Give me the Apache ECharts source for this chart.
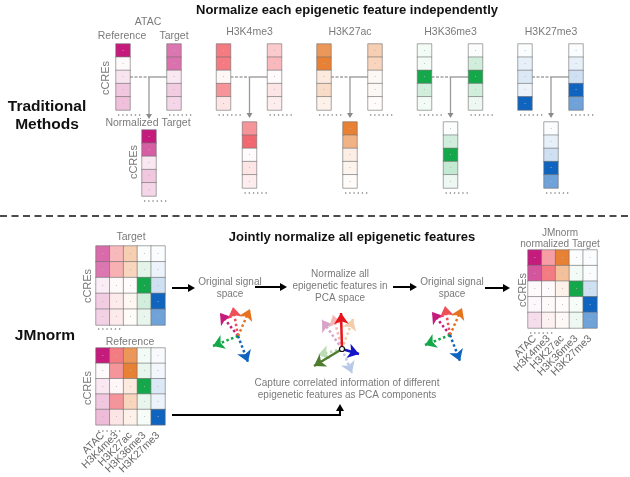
<!DOCTYPE html>
<html>
<head>
<meta charset="utf-8">
<title>JMnorm schematic</title>
<script src="https://cdn.jsdelivr.net/npm/echarts@6/dist/echarts.min.js"></script>
<style>
  html, body { margin: 0; padding: 0; background: #fff; }
  #chart { width: 630px; height: 477px; }
</style>
</head>
<body>
<div id="chart"></div>
<script>
// ---- data ----
const features = ['ATAC', 'H3K4me3', 'H3K27ac', 'H3K36me3', 'H3K27me3'];
const cres = ['cCRE1', 'cCRE2', 'cCRE3', 'cCRE4', 'cCRE5'];

// traditional methods: one column per feature, rows top -> bottom
const refSignal = [
  [1.0, 0.02, 0.12, 0.25, 0.28],
  [0.75, 0.75, 0.05, 0.6, 0.15],
  [0.75, 0.9, 0.15, 0.25, 0.1],
  [0.05, 0.05, 1.0, 0.2, 0.05],
  [0.02, 0.1, 0.15, 0.08, 1.0]
];
const targetSignal = [
  [0.6, 0.62, 0.1, 0.22, 0.18],
  [0.3, 0.4, 0.02, 0.15, 0.1],
  [0.35, 0.3, 0.05, 0.05, 0.02],
  [0.02, 0.2, 1.0, 0.2, 0.08],
  [0.02, 0.1, 0.2, 1.0, 0.6]
];
const normSignal = [
  [1.0, 0.7, 0.1, 0.25, 0.18],
  [0.6, 0.85, 0.02, 0.15, 0.1],
  [0.9, 0.55, 0.12, 0.08, 0.03],
  [0.02, 0.2, 1.0, 0.25, 0.08],
  [0.02, 0.1, 0.2, 1.0, 0.6]
];

// JMnorm matrices, one array per feature (column), rows top -> bottom
const jmTarget = [
  [0.65, 0.6, 0.08, 0.22, 0.2],
  [0.4, 0.45, 0.03, 0.12, 0.12],
  [0.35, 0.3, 0.02, 0.06, 0.03],
  [0.02, 0.12, 1.0, 0.2, 0.1],
  [0.02, 0.08, 0.2, 1.0, 0.6]
];
const jmReference = [
  [1.0, 0.02, 0.1, 0.25, 0.3],
  [0.75, 0.6, 0.05, 0.6, 0.15],
  [0.75, 0.9, 0.15, 0.3, 0.1],
  [0.05, 0.1, 1.0, 0.1, 0.04],
  [0.03, 0.05, 0.15, 0.08, 1.0]
];
const jmNormalized = [
  [1.0, 0.75, 0.02, 0.03, 0.15],
  [0.55, 0.75, 0.02, 0.03, 0.08],
  [0.9, 0.45, 0.1, 0.02, 0.04],
  [0.02, 0.05, 1.0, 0.04, 0.08],
  [0.02, 0.02, 0.2, 1.0, 0.6]
];

// signal vectors (dx, dy) per feature, and PCA components
const signalVectors = [[-18, 23], [-5, 29], [12, 27], [-25, -10], [10, -26]];
const pcaInputVectors = [[-20, 29], [-9, 34], [11, 30], [-24, -6], [10, -24]];
const pcaComponents = [[-1, 36], [17, -5], [-28, -17]];

// ---- styles ----
const featColors = ['#c51b7d', '#ef4f57', '#e6731f', '#14a84a', '#0f64c0'];
const fadedColors = ['#d7a3c9', '#f4b5b5', '#f5cca9', '#bcdcb4', '#b7c9e6'];
const compColors = ['#e8131b', '#1414c8', '#4e7d31'];
const FONT = '"Liberation Sans", Arial, sans-serif';
const GREY = '#7a7a7a';

const grid = [], xAxis = [], yAxis = [], series = [];
const vmSeries = features.map(() => []);

function addGrid(left, top, w, h, xa, ya) {
  grid.push({ left: left, top: top, width: w, height: h });
  const i = grid.length - 1;
  xAxis.push(Object.assign({ gridIndex: i }, xa));
  yAxis.push(Object.assign({ gridIndex: i }, ya));
  return i;
}

function heatGrid(left, top, w, h, cats, showLabels) {
  return addGrid(left, top, w, h, {
    type: 'category', data: cats,
    axisLine: { show: false }, axisTick: { show: false }, splitLine: { show: false },
    axisLabel: { show: showLabels, rotate: 45, interval: 0, margin: 9, fontSize: 10.5, color: '#666', fontFamily: FONT }
  }, {
    type: 'category', data: cres, inverse: true, show: false
  });
}

function addHeat(g, f, col, vals) {
  series.push({
    type: 'heatmap', xAxisIndex: g, yAxisIndex: g, silent: true,
    data: vals.map((v, r) => [col, r, v]),
    itemStyle: { borderColor: 'rgba(110,110,110,0.75)', borderWidth: 0.8 },
    label: { show: true, formatter: '\u00b7', color: '#b5b5b5', fontSize: 8 },
    emphasis: { disabled: true }
  });
  vmSeries[f].push(series.length - 1);
}

function vectorGrid(cx, cy, R, vecs, colors, type, width) {
  const g = addGrid(cx - R, cy - R, 2 * R, 2 * R,
    { type: 'value', min: -R, max: R, show: false },
    { type: 'value', min: -R, max: R, show: false });
  series.push({
    type: 'lines', coordinateSystem: 'cartesian2d', xAxisIndex: g, yAxisIndex: g, silent: true,
    symbol: ['none', 'arrow'], symbolSize: [0, 11],
    lineStyle: { width: width, type: type, opacity: 1 },
    data: vecs.map((v, i) => ({ coords: [[0, 0], v], lineStyle: { color: colors[i] } }))
  });
  return g;
}

// ---- graphic helpers ----
const graphic = [];
function text(x, y, str, opt) {
  opt = opt || {};
  graphic.push({
    type: 'text', x: x, y: y, rotation: opt.rotation || 0, silent: true,
    style: {
      text: str, fill: opt.color || GREY, fontSize: opt.size || 10,
      fontWeight: opt.bold ? 'bold' : 'normal', fontFamily: FONT,
      textAlign: 'center', textVerticalAlign: 'middle'
    }
  });
}
function line(x1, y1, x2, y2, color, w, dash) {
  graphic.push({
    type: 'line', silent: true,
    shape: { x1: x1, y1: y1, x2: x2, y2: y2 },
    style: { stroke: color, lineWidth: w, lineDash: dash || null }
  });
}
function head(x, y, dir, color, len, half) {
  // dir: 'r' right, 'd' down, 'u' up
  let pts;
  if (dir === 'r') pts = [[x, y], [x - len, y - half], [x - len, y + half]];
  else if (dir === 'd') pts = [[x, y], [x - half, y - len], [x + half, y - len]];
  else pts = [[x, y], [x - half, y + len], [x + half, y + len]];
  graphic.push({ type: 'polygon', silent: true, shape: { points: pts }, style: { fill: color } });
}
function cres_label(x, y) { text(x, y, 'cCREs', { rotation: Math.PI / 2, size: 11 }); }
function dots(x, y) { line(x, y, x + 24, y, '#8a8a8a', 1.3, [1.3, 2.9]); }

// ---- traditional methods ----
const CW = 14, CH = 66;
features.forEach((f, i) => {
  const refX = 116 + 100.5 * i;
  const tgtX = refX + 51;
  const normX = refX + 26;
  const normTop = i === 0 ? 130 : 122;
  let g = heatGrid(refX, 44, CW, CH, [f], false); addHeat(g, i, 0, refSignal[i]);
  g = heatGrid(tgtX, 44, CW, CH, [f], false); addHeat(g, i, 0, targetSignal[i]);
  g = heatGrid(normX, normTop, CW, CH, [f], false); addHeat(g, i, 0, normSignal[i]);
  dots(refX + 2, 115); dots(tgtX + 2, 115); dots(normX + 2, normTop + CH + 5);
  // connector
  const mx = refX + 33;
  line(refX + 14, 77, mx, 77, '#a3a3a3', 1.5, [3, 1.5]);
  line(mx, 77, tgtX, 77, '#a3a3a3', 1.5);
  const tip = i === 0 ? 119 : 118;
  line(mx, 77, mx, tip - 4, '#9a9a9a', 1.3);
  head(mx, tip, 'd', '#8a8a8a', 5, 3);
  if (i === 0) {
    text(148, 22, 'ATAC', { size: 10.5 });
    text(122, 36, 'Reference', { size: 10.5 });
    text(174, 36, 'Target', { size: 10.5 });
    text(148, 123, 'Normalized Target', { size: 10.5 });
    cres_label(106, 78);
    cres_label(134, 162);
  } else {
    text(refX + 33, 32, f, { size: 10.5 });
  }
});

// ---- JMnorm matrices ----
const gT = heatGrid(96, 246, 69, 79, features, false);
const gR = heatGrid(96, 348, 69, 79, features, true);
const gN = heatGrid(528, 250, 69, 78, features, true);
features.forEach((f, i) => {
  addHeat(gT, i, i, jmTarget[i]);
  addHeat(gR, i, i, jmReference[i]);
  addHeat(gN, i, i, jmNormalized[i]);
});
dots(98, 329); dots(98, 431); dots(530, 333);
cres_label(88, 286); cres_label(88, 388); cres_label(523, 290);

// ---- vector diagrams ----
vectorGrid(238, 336, 32, signalVectors, featColors, 'dotted', 2.5);
vectorGrid(450, 335, 32, signalVectors, featColors, 'dotted', 2.5);
vectorGrid(342, 349, 40, pcaInputVectors, fadedColors, 'dotted', 2.5);
vectorGrid(342, 349, 40, pcaComponents, compColors, 'solid', 2.5);
graphic.push({ type: 'circle', silent: true, shape: { cx: 342, cy: 349, r: 2.5 }, style: { fill: '#fff', stroke: '#111', lineWidth: 1.2 }, z: 10 });

// ---- texts ----
text(347, 10, 'Normalize each epigenetic feature independently', { bold: true, size: 13, color: '#111' });
text(47, 107, 'Traditional', { bold: true, size: 15.5, color: '#111' });
text(47, 125, 'Methods', { bold: true, size: 15.5, color: '#111' });
text(45, 336, 'JMnorm', { bold: true, size: 15.5, color: '#111' });
text(352, 237, 'Jointly normalize all epigenetic features', { bold: true, size: 13, color: '#111' });
text(131, 237, 'Target', { size: 10.5 });
text(130, 342, 'Reference', { size: 10.5 });
text(560, 233, 'JMnorm');
text(560, 244, 'normalized Target');
[230, 452].forEach(x => { text(x, 282, 'Original signal'); text(x, 294, 'space'); });
text(340, 274, 'Normalize all');
text(340, 286, 'epigenetic features in');
text(340, 298, 'PCA space');
text(347, 383, 'Capture correlated information of different');
text(347, 395, 'epigenetic features as PCA components');

// ---- divider and black arrows ----
line(0, 216, 630, 216, '#111', 1.5, [7, 4.5]);
[[172, 195, 288], [255, 287, 287], [393, 417, 287], [485, 510, 288]].forEach(a => {
  line(a[0], a[2], a[1] - 5, a[2], '#000', 2);
  head(a[1], a[2], 'r', '#000', 7, 4);
});
line(172, 415, 341, 415, '#000', 2);
line(340, 415, 340, 410, '#000', 2);
head(340, 404, 'u', '#000', 7, 4);

const visualMap = features.map((f, i) => ({
  type: 'continuous', show: false, min: 0, max: 1, dimension: 2,
  seriesIndex: vmSeries[i], inRange: { color: ['#ffffff', featColors[i]] }
}));

const chart = echarts.init(document.getElementById('chart'));
chart.setOption({
  animation: false,
  backgroundColor: '#fff',
  grid: grid, xAxis: xAxis, yAxis: yAxis,
  visualMap: visualMap,
  series: series,
  graphic: graphic
});
</script>
</body>
</html>
